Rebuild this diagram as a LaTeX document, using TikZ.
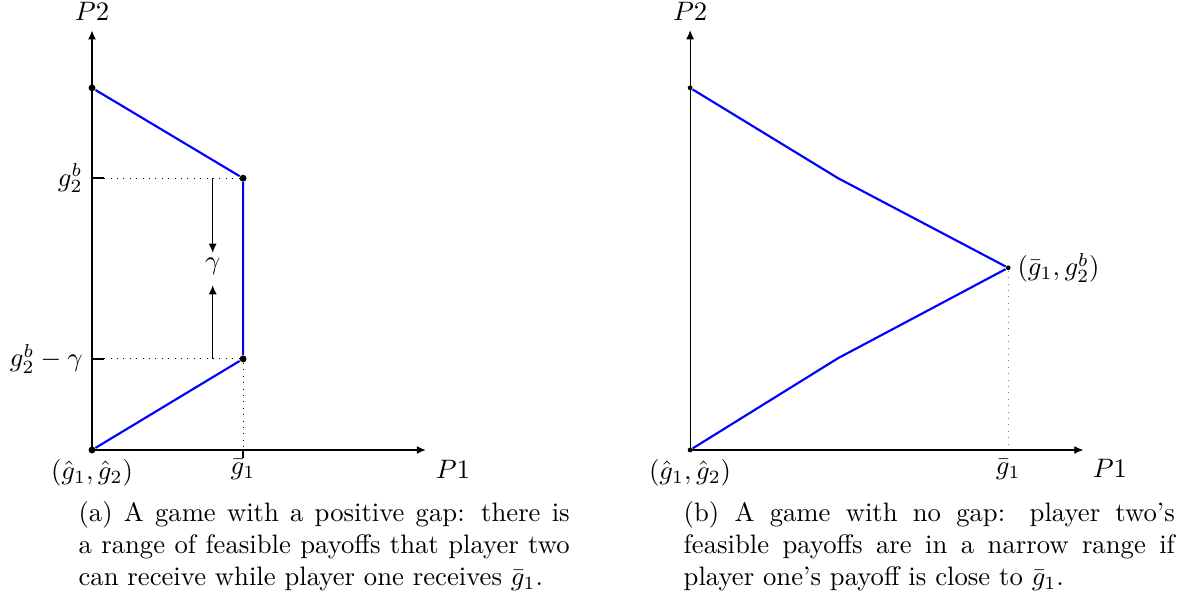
\documentclass[tikz,border=0pt]{standalone}
\usepackage{amsmath, amssymb}
\usetikzlibrary{arrows.meta}
\definecolor{frontier}{RGB}{0, 0, 255}
\tikzset{
  axis/.style={-{Latex[length=3.4pt, width=3pt]}},
  gap/.style={-{Latex[length=3.4pt, width=3pt]}},
  guide/.style={dotted},
  vertex/.style={circle, fill=black, inner sep=0pt, minimum size=#1},
  vertex/.default=2.6pt,
  caption/.style={anchor=north west, inner sep=0pt, text width=6.47cm, align=justify,
    execute at begin node={\hyphenpenalty=10000\exhyphenpenalty=10000}}
}

\begin{document}
\begin{tikzpicture}
  \useasboundingbox (0,0) rectangle (15.65,7.97);

  % ---------- (a) a game with a positive gap ----------
  \begin{scope}[shift={(1.212,2.042)}]
    % axes
    \coordinate (a-o) at (0,0);
    \draw[axis, thick] (a-o) -- (4.40,0) node[below right] (a-p1) {$P1$};
    \draw[axis, thick] (a-o) -- (0,5.53) node[above] (a-p2) {$P2$};
    % corners of the feasible set
    \node[vertex] (a-top) at (0,4.77) {};
    \node[vertex] (a-hi) at (1.99,3.58) {};
    \node[vertex] (a-lo) at (1.99,1.20) {};
    \node[vertex] (a-org) at (a-o) {};
    % ticks and guides
    \draw[thick] (0,3.58) -- (0.16,3.58) coordinate (a-thi);
    \draw[thick] (0,1.20) -- (0.16,1.20) coordinate (a-tlo);
    \draw[thick] (1.99,0) coordinate (a-tx) -- (1.99,-0.1);
    \draw[guide] (a-thi) -- (a-hi);
    \draw[guide] (a-tlo) -- (a-lo);
    \draw[guide] (a-lo) -- (a-tx);
    % frontier
    \draw[frontier, thick] (a-top) -- (a-hi) -- (a-lo) -- (a-org);
    % the gap
    \node (a-gam) at (1.59,2.42) {$\gamma$};
    \coordinate (a-gs) at (1.59,3.58);
    \coordinate (a-ge) at (1.59,1.20);
    \draw[gap] (a-gs) -- (1.59,2.60);
    \draw[gap] (a-ge) -- (1.59,2.17);
    % labels
    \node[left] (a-g2b) at (0,3.58) {$g_2^b$};
    \node[left] (a-g2bg) at (0,1.20) {$g_2^b - \gamma$};
    \node[below] (a-g1) at (1.99,0) {$\bar{g}_1$};
    \node[below] (a-hat) at (a-o) {$(\hat{g}_1, \hat{g}_2)$};
  \end{scope}

  % ---------- (b) a game with no gap ----------
  \begin{scope}[shift={(9.091,2.042)}]
    % axes
    \coordinate (b-o) at (0,0);
    \draw[axis] (b-o) -- (5.18,0) node[below right] (b-p1) {$P1$};
    \draw[axis] (b-o) -- (0,5.53) node[above] (b-p2) {$P2$};
    % corners of the feasible set
    \node[vertex=1.8pt] (b-top) at (0,4.77) {};
    \node[vertex=1.8pt] (b-apex) at (4.19,2.40) {};
    \node[vertex=1.8pt] (b-org) at (b-o) {};
    \coordinate (b-up) at (1.95,3.58);
    \coordinate (b-dn) at (1.95,1.21);
    \coordinate (b-tx) at (4.19,0);
    % guide
    \draw[guide, gray] (b-apex) -- (b-tx);
    % frontier
    \draw[frontier, thick] (b-top) -- (b-up) -- (b-apex) -- (b-dn) -- (b-org);
    % labels
    \node[right] (b-pt) at (b-apex) {$(\bar{g}_1, g_2^b)$};
    \node[below] (b-g1) at (b-tx) {$\bar{g}_1$};
    \node[below] (b-hat) at (b-o) {$(\hat{g}_1, \hat{g}_2)$};
  \end{scope}

  % ---------- captions ----------
  \node[caption] (cap-a) at (1.028,1.37)
    {(a) A game with a positive gap: there is a range of feasible payoffs that player two can receive while player one receives $\bar{g}_1$.};
  \node[caption] (cap-b) at (9.0,1.37)
    {(b) A game with no gap: player two's feasible payoffs are in a narrow range if player one's payoff is close to $\bar{g}_1$.};

\end{tikzpicture}
\end{document}
